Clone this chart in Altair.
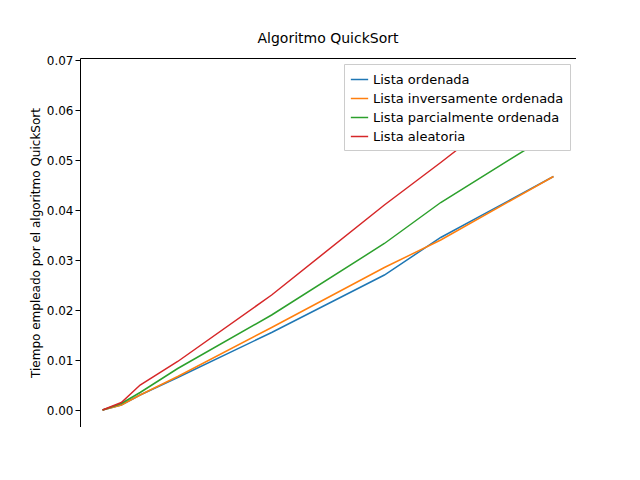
import altair as alt
import pandas as pd

sizes = [0, 500, 1000, 2000, 4500, 7500, 9000, 12000]
series = ["Lista ordenada", "Lista inversamente ordenada", "Lista parcialmente ordenada", "Lista aleatoria"]
ordenada = [0, 0.001, 0.003, 0.0065, 0.0155, 0.027, 0.0345, 0.0467]
inversa = [0, 0.001, 0.003, 0.0067, 0.0165, 0.0285, 0.034, 0.0467]
parcial = [0, 0.0013, 0.0035, 0.0083, 0.019, 0.0333, 0.0415, 0.0555]
aleatoria = [0, 0.0015, 0.005, 0.0097, 0.023, 0.041, 0.0495, 0.067]
colors = ["#1f77b4", "#ff7f0e", "#2ca02c", "#d62728"]

rows = []
for name, vals in zip(series, [ordenada, inversa, parcial, aleatoria]):
    for s, v in zip(sizes, vals):
        rows.append({"n": s, "t": v, "serie": name})
df = pd.DataFrame(rows)

chart = alt.Chart(df).mark_line(strokeWidth=1.5, clip=True).encode(
    x=alt.X("n:Q", title="Tamaño de la lista", scale=alt.Scale(domain=[-600, 12600], nice=False),
            axis=alt.Axis(values=list(range(0, 12001, 2000)), grid=False, format="d")),
    y=alt.Y("t:Q", title="Tiempo empleado por el algoritmo QuickSort",
            scale=alt.Scale(domain=[-0.0034, 0.0704], nice=False, zero=False),
            axis=alt.Axis(values=[i / 100 for i in range(8)], format=".2f", grid=False)),
    color=alt.Color("serie:N", scale=alt.Scale(domain=series, range=colors),
                    legend=alt.Legend(title=None, orient="top-right", fillColor="white",
                                      strokeColor="#cccccc", padding=6, labelFontSize=13,
                                      labelLimit=0, symbolType="stroke", symbolSize=300,
                                      offset=6)),
).properties(
    width=496, height=369,
    autosize=alt.AutoSizeParams(type="none"),
    padding={"left": 72, "top": 50, "right": 0, "bottom": 0},
    title=alt.Title("Algoritmo QuickSort", fontSize=14, fontWeight="normal", font="DejaVu Sans", offset=8),
).configure_view(stroke="black").configure_axis(
    domainColor="black", tickColor="black", labelColor="black", titleColor="black",
    labelFont="DejaVu Sans", titleFont="DejaVu Sans", labelFontSize=12, titleFontSize=12,
    titleFontWeight="normal", domain=False
).configure_legend(labelFont="DejaVu Sans")

chart.save("out.html", embed_options={"renderer": "svg", "actions": False})
